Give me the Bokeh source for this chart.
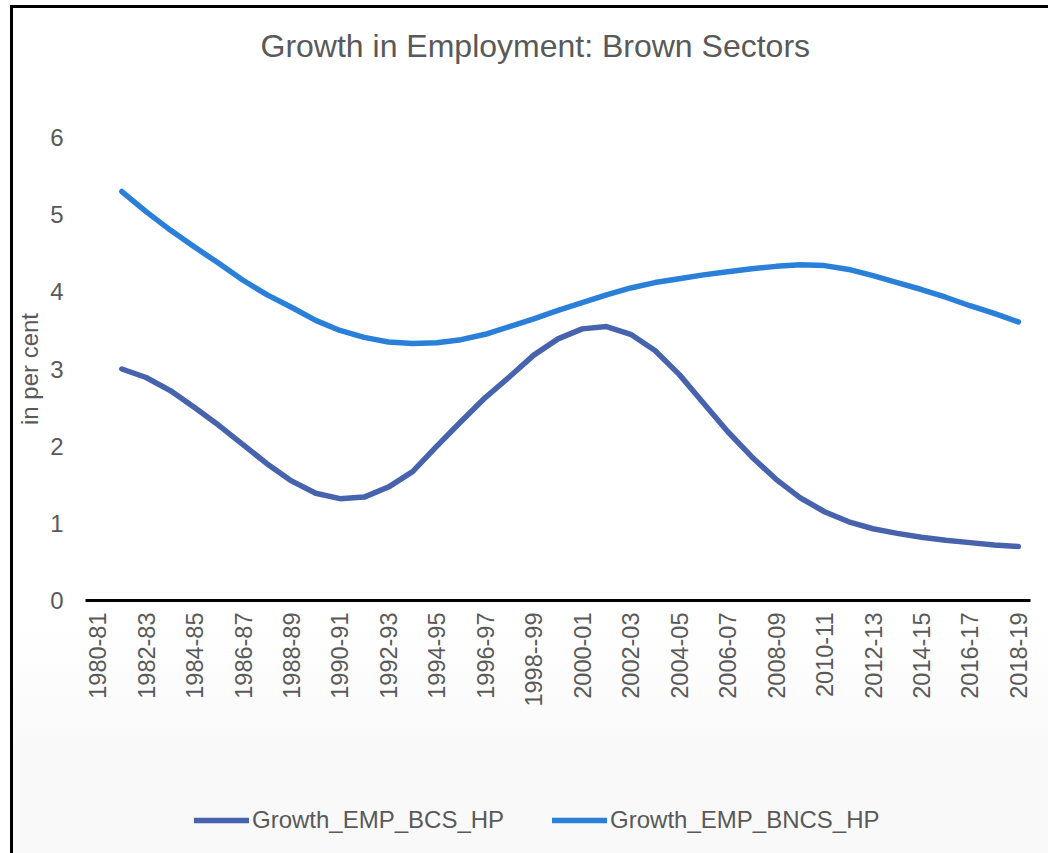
import math
from bokeh.plotting import figure
from bokeh.layouts import column
from bokeh.models import Range1d, FixedTicker, Legend, LegendItem, Title
from bokeh.embed import file_html
from bokeh.resources import INLINE

nan = float("nan")

years = ["1980-81", "1981-82", "1982-83", "1983-84", "1984-85", "1985-86", "1986-87",
         "1987-88", "1988-89", "1989-90", "1990-91", "1991-92", "1992-93", "1993-94",
         "1994-95", "1995-96", "1996-97", "1997-98", "1998--99", "1999-00", "2000-01",
         "2001-02", "2002-03", "2003-04", "2004-05", "2005-06", "2006-07", "2007-08",
         "2008-09", "2009-10", "2010-11", "2011-12", "2012-13", "2013-14", "2014-15",
         "2015-16", "2016-17", "2017-18", "2018-19"]

growth_emp_bcs_hp = [nan, 3.00, 2.89, 2.72, 2.50, 2.27, 2.02, 1.77, 1.55, 1.39, 1.32, 1.34,
                     1.47, 1.67, 2.00, 2.32, 2.63, 2.90, 3.18, 3.39, 3.52, 3.55, 3.45, 3.24,
                     2.93, 2.56, 2.19, 1.86, 1.57, 1.33, 1.15, 1.02, 0.93, 0.87, 0.82, 0.78,
                     0.75, 0.72, 0.70]

growth_emp_bncs_hp = [nan, 5.30, 5.04, 4.80, 4.58, 4.37, 4.15, 3.96, 3.80, 3.63, 3.50, 3.41,
                      3.35, 3.33, 3.34, 3.38, 3.45, 3.55, 3.65, 3.76, 3.86, 3.96, 4.05, 4.12,
                      4.17, 4.22, 4.26, 4.30, 4.33, 4.35, 4.34, 4.29, 4.21, 4.12, 4.03, 3.93,
                      3.82, 3.72, 3.61]

series_names = ["Growth_EMP_BCS_HP", "Growth_EMP_BNCS_HP"]
y_ticks = [0, 1, 2, 3, 4, 5, 6]

FONT = "Liberation Sans"
GREY = "#595959"
COLORS = ["#4763AE", "#2A80D8"]

idx = list(range(len(years)))
series = [growth_emp_bcs_hp, growth_emp_bncs_hp]

p = figure(width=1035, height=752, output_backend="svg", toolbar_location=None,
           x_range=Range1d(-0.5, len(years) - 0.5), y_range=Range1d(0, 6),
           min_border_left=69, min_border_right=18, min_border_top=129, min_border_bottom=160,
           title="Growth in Employment: Brown Sectors")

p.border_fill_color = None
p.background_fill_color = None
p.outline_line_color = None
p.grid.grid_line_color = None

p.title.text_font = FONT
p.title.text_font_size = "32px"
p.title.text_font_style = "normal"
p.title.text_color = GREY
p.title.align = "left"
p.title.offset = 175
p.title.standoff = 0

# spacer between title and plot frame
p.add_layout(Title(text=" ", text_font_size="10px", standoff=61), "above")

for vals, col in zip(series, COLORS):
    p.line(idx, vals, line_color=col, line_width=5.5, line_cap="round", line_join="round")

xa = p.xaxis[0]
xa.ticker = FixedTicker(ticks=idx[::2])
xa.major_label_overrides = {i: years[i] for i in idx}
xa.major_label_orientation = math.pi / 2
xa.major_label_text_font = FONT
xa.major_label_text_font_size = "23.5px"
xa.major_label_text_color = GREY
xa.major_label_standoff = 6
xa.major_tick_line_color = None
xa.minor_tick_line_color = None
xa.axis_line_color = "black"
xa.axis_line_width = 3

ya = p.yaxis[0]
ya.ticker = FixedTicker(ticks=y_ticks)
ya.major_label_text_font = FONT
ya.major_label_text_font_size = "24px"
ya.major_label_text_color = GREY
ya.major_label_standoff = 22
ya.major_tick_line_color = None
ya.major_tick_out = 0
ya.minor_tick_line_color = None
ya.axis_line_color = None
ya.axis_label = "in per cent"
ya.axis_label_text_font = FONT
ya.axis_label_text_font_size = "24px"
ya.axis_label_text_font_style = "normal"
ya.axis_label_text_color = GREY
ya.axis_label_standoff = 4

# legend strip below the chart (its line renderers lie outside its view range;
# only their legend glyphs are shown)
lf = figure(width=1035, height=93, output_backend="svg", toolbar_location=None,
            x_axis_type=None, y_axis_type=None,
            x_range=Range1d(1000, 1001), y_range=Range1d(1000, 1001),
            min_border_left=0, min_border_right=0, min_border_top=27, min_border_bottom=0)
lf.border_fill_color = None
lf.background_fill_color = None
lf.outline_line_color = None
lf.grid.grid_line_color = None

items = []
for name, vals, col in zip(series_names, series, COLORS):
    r = lf.line(idx, vals, line_color=col, line_width=5.5, line_cap="round")
    items.append(LegendItem(label=name, renderers=[r]))

legend = Legend(items=items, orientation="horizontal", location="left",
                glyph_width=55, glyph_height=24, label_standoff=3, spacing=48,
                label_text_font=FONT, label_text_font_size="24px", label_text_color=GREY,
                border_line_color=None, background_fill_alpha=0, margin=109, padding=10)
lf.add_layout(legend, "center")

layout = column(p, lf, spacing=0)
layout.styles = {"margin-left": "10px", "margin-top": "5px",
                 "border-left": "3px solid black", "border-top": "3px solid black",
                 "background": "linear-gradient(to bottom, #ffffff 0%, #ffffff 73%, #f9f9f9 88%, #f9f9f9 100%)"}

open("out.html", "w").write(file_html(layout, INLINE))
